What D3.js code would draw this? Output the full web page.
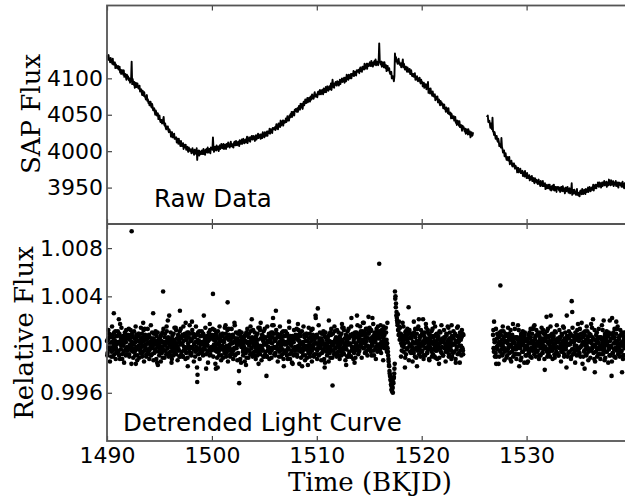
<!DOCTYPE html>
<html>
<head>
<meta charset="utf-8">
<script src="https://cdn.jsdelivr.net/npm/d3@7"></script>
<style>
  body { margin: 0; background: #fff; }
  svg { display: block; }
  .tick text { font-family: "DejaVu Sans", sans-serif; font-size: 22px; fill: #000; }
  .tick line { stroke: #444; stroke-width: 1.2; }
  .axis-label { font-family: "DejaVu Serif", serif; font-size: 26px; fill: #000; }
  .note { font-family: "DejaVu Sans", sans-serif; font-size: 24.5px; fill: #000; }
</style>
</head>
<body>
<svg id="chart"></svg>
<script>
// time in hundredths of a day after BKJD 1490
const timeHundredths = [
  0,5,10,15,20,25,30,35,40,45,50,55,60,65,70,75,80,85,90,95,
  100,105,110,115,120,125,130,135,140,145,150,155,160,165,170,175,180,185,190,195,
  200,205,210,215,220,225,230,235,240,245,250,255,260,265,270,275,280,285,290,295,
  300,305,310,315,320,325,330,335,340,345,350,355,360,365,370,375,380,385,390,395,
  400,405,410,415,420,425,430,435,440,445,450,455,460,465,470,475,480,485,490,495,
  500,505,510,515,520,525,530,535,540,545,550,555,560,565,570,575,580,585,590,595,
  600,605,610,615,620,625,630,635,640,645,650,655,660,665,670,675,680,685,690,695,
  700,705,710,715,720,725,730,735,740,745,750,755,760,765,770,775,780,785,790,795,
  800,805,810,815,820,825,830,835,840,845,850,855,860,865,870,875,880,885,890,895,
  900,905,910,915,920,925,930,935,940,945,950,955,960,965,970,975,980,985,990,995,
  1000,1005,1010,1015,1020,1025,1030,1035,1040,1045,1050,1055,1060,1065,1070,1075,1080,1085,1090,1095,
  1100,1105,1110,1115,1120,1125,1130,1135,1140,1145,1150,1155,1160,1165,1170,1175,1180,1185,1190,1195,
  1200,1205,1210,1215,1220,1225,1230,1235,1240,1245,1250,1255,1260,1265,1270,1275,1280,1285,1290,1295,
  1300,1305,1310,1315,1320,1325,1330,1335,1340,1345,1350,1355,1360,1365,1370,1375,1380,1385,1390,1395,
  1400,1405,1410,1415,1420,1425,1430,1435,1440,1445,1450,1455,1460,1465,1470,1475,1480,1485,1490,1495,
  1500,1505,1510,1515,1520,1525,1530,1535,1540,1545,1550,1555,1560,1565,1570,1575,1580,1585,1590,1595,
  1600,1605,1610,1615,1620,1625,1630,1635,1640,1645,1650,1655,1660,1665,1670,1675,1680,1685,1690,1695,
  1700,1705,1710,1715,1720,1725,1730,1735,1740,1745,1750,1755,1760,1765,1770,1775,1780,1785,1790,1795,
  1800,1805,1810,1815,1820,1825,1830,1835,1840,1845,1850,1855,1860,1865,1870,1875,1880,1885,1890,1895,
  1900,1905,1910,1915,1920,1925,1930,1935,1940,1945,1950,1955,1960,1965,1970,1975,1980,1985,1990,1995,
  2000,2005,2010,2015,2020,2025,2030,2035,2040,2045,2050,2055,2060,2065,2070,2075,2080,2085,2090,2095,
  2100,2105,2110,2115,2120,2125,2130,2135,2140,2145,2150,2155,2160,2165,2170,2175,2180,2185,2190,2195,
  2200,2205,2210,2215,2220,2225,2230,2235,2240,2245,2250,2255,2260,2265,2270,2275,2280,2285,2290,2295,
  2300,2305,2310,2315,2320,2325,2330,2335,2340,2345,2350,2355,2360,2365,2370,2375,2380,2385,2390,2395,
  2400,2405,2410,2415,2420,2425,2430,2435,2440,2445,2450,2455,2460,2465,2470,2475,2480,2485,2490,2495,
  2500,2505,2510,2515,2520,2525,2530,2535,2540,2545,2550,2555,2560,2565,2570,2575,2580,2585,2590,2595,
  2600,2605,2610,2615,2620,2625,2630,2635,2640,2645,2650,2655,2660,2665,2670,2675,2680,2685,2690,2695,
  2700,2705,2710,2715,2720,2725,2730,2735,2740,2745,2750,2755,2760,2765,2770,2775,2780,2785,2790,2795,
  2800,2805,2810,2815,2820,2825,2830,2835,2840,2845,2850,2855,2860,2865,2870,2875,2880,2885,2890,2895,
  2900,2905,2910,2915,2920,2925,2930,2935,2940,2945,2950,2955,2960,2965,2970,2975,2980,2985,2990,2995,
  3000,3005,3010,3015,3020,3025,3030,3035,3040,3045,3050,3055,3060,3065,3070,3075,3080,3085,3090,3095,
  3100,3105,3110,3115,3120,3125,3130,3135,3140,3145,3150,3155,3160,3165,3170,3175,3180,3185,3190,3195,
  3200,3205,3210,3215,3220,3225,3230,3235,3240,3245,3250,3255,3260,3265,3270,3275,3280,3285,3290,3295,
  3300,3305,3310,3315,3320,3325,3330,3335,3340,3345,3350,3355,3360,3365,3370,3375,3380,3385,3390,3395,
  3400,3405,3410,3415,3420,3425,3430,3435,3440,3445,3450,3455,3460,3465,3470,3475,3480,3485,3490,
  3620,3625,3630,3635,3640,3645,3650,3655,3660,3665,3670,3675,3680,3685,3690,3695,
  3700,3705,3710,3715,3720,3725,3730,3735,3740,3745,3750,3755,3760,3765,3770,3775,3780,3785,3790,3795,
  3800,3805,3810,3815,3820,3825,3830,3835,3840,3845,3850,3855,3860,3865,3870,3875,3880,3885,3890,3895,
  3900,3905,3910,3915,3920,3925,3930,3935,3940,3945,3950,3955,3960,3965,3970,3975,3980,3985,3990,3995,
  4000,4005,4010,4015,4020,4025,4030,4035,4040,4045,4050,4055,4060,4065,4070,4075,4080,4085,4090,4095,
  4100,4105,4110,4115,4120,4125,4130,4135,4140,4145,4150,4155,4160,4165,4170,4175,4180,4185,4190,4195,
  4200,4205,4210,4215,4220,4225,4230,4235,4240,4245,4250,4255,4260,4265,4270,4275,4280,4285,4290,4295,
  4300,4305,4310,4315,4320,4325,4330,4335,4340,4345,4350,4355,4360,4365,4370,4375,4380,4385,4390,4395,
  4400,4405,4410,4415,4420,4425,4430,4435,4440,4445,4450,4455,4460,4465,4470,4475,4480,4485,4490,4495,
  4500,4505,4510,4515,4520,4525,4530,4535,4540,4545,4550,4555,4560,4565,4570,4575,4580,4585,4590,4595,
  4600,4605,4610,4615,4620,4625,4630,4635,4640,4645,4650,4655,4660,4665,4670,4675,4680,4685,4690,4695,
  4700,4705,4710,4715,4720,4725,4730,4735,4740,4745,4750,4755,4760,4765,4770,4775,4780,4785,4790,4795,
  4800,4805,4810,4815,4820,4825,4830,4835,4840,4845,4850,4855,4860,4865,4870,4875,4880,4885,4890,4895,
  4900,4905,4910,4915,4920,4925,4930,4935,4940
]

// raw SAP flux, one row per day
const sapFlux = [
  4132,4126,4130,4132,4125,4126,4122,4128,4123,4125,4120,4127,4119,4121,4119,4122,4114,4119,4117,4114,
  4114,4117,4112,4113,4116,4108,4112,4106,4111,4107,4111,4105,4111,4102,4105,4106,4102,4098,4105,4102,
  4103,4099,4097,4100,4094,4098,4099,4123,4092,4099,4094,4091,4095,4087,4093,4094,4088,4090,4093,4088,
  4086,4088,4090,4082,4084,4085,4081,4077,4083,4080,4076,4081,4075,4075,4071,4075,4077,4069,4071,4066,
  4068,4063,4068,4068,4062,4060,4065,4061,4056,4058,4059,4054,4050,4056,4053,4049,4050,4052,4044,4048,
  4049,4043,4040,4043,4043,4038,4039,4043,4047,4037,4035,4038,4032,4030,4034,4031,4034,4028,4026,4030,
  4027,4027,4020,4024,4026,4019,4023,4019,4024,4017,4017,4017,4019,4012,4017,4015,4010,4017,4011,4011,
  4007,4014,4009,4007,4009,4011,4003,4009,4006,4005,4009,4002,4005,4006,4001,3999,4005,4002,4003,4000,
  4002,3997,4001,4004,3998,3999,3995,4002,3998,4001,3996,4004,3988,4000,3998,4001,3994,4000,3998,3996,
  3997,4001,3996,3999,4003,3996,4000,3995,4002,3999,4003,3998,4005,3998,4001,4003,4000,3997,4005,4003,
  4005,4002,4019,4005,3999,4004,4006,4002,4001,4008,4004,4002,4006,4000,4006,4008,4003,4005,4010,4005,
  4004,4007,4010,4003,4007,4009,4006,4003,4010,4008,4006,4012,4007,4008,4005,4010,4013,4007,4010,4006,
  4009,4005,4011,4013,4009,4008,4014,4011,4008,4011,4013,4010,4007,4015,4013,4010,4012,4016,4010,4015,
  4017,4012,4011,4015,4016,4012,4015,4020,4011,4016,4015,4019,4014,4013,4019,4017,4021,4016,4016,4021,
  4019,4020,4014,4019,4022,4016,4021,4018,4024,4018,4019,4020,4023,4017,4023,4022,4018,4026,4021,4022,
  4019,4026,4023,4021,4025,4027,4021,4027,4026,4025,4031,4024,4028,4030,4026,4025,4032,4030,4032,4030,
  4033,4029,4033,4037,4031,4034,4030,4038,4034,4038,4033,4042,4035,4039,4037,4042,4035,4042,4040,4039,
  4040,4045,4040,4043,4048,4042,4046,4042,4049,4046,4051,4047,4054,4047,4051,4054,4051,4049,4057,4055,
  4058,4056,4054,4059,4054,4059,4062,4059,4057,4065,4062,4060,4065,4058,4065,4068,4063,4066,4071,4066,
  4066,4070,4073,4067,4070,4073,4070,4068,4075,4074,4071,4078,4073,4075,4072,4078,4081,4075,4078,4075,
  4078,4074,4081,4082,4078,4078,4084,4081,4078,4081,4084,4081,4078,4086,4084,4081,4084,4088,4081,4087,
  4089,4084,4083,4087,4089,4085,4087,4093,4084,4090,4098,4092,4088,4087,4093,4091,4095,4091,4090,4096,
  4094,4095,4090,4094,4098,4092,4097,4095,4100,4095,4096,4097,4101,4094,4101,4100,4096,4105,4099,4101,
  4098,4105,4102,4100,4104,4106,4100,4106,4105,4104,4110,4103,4107,4109,4105,4104,4111,4109,4111,4109,
  4112,4107,4112,4115,4110,4112,4109,4116,4113,4116,4112,4120,4113,4117,4115,4120,4113,4120,4118,4117,
  4118,4122,4117,4119,4124,4117,4121,4116,4122,4119,4124,4119,4126,4118,4121,4123,4120,4118,4125,4148,
  4125,4122,4119,4123,4116,4121,4122,4118,4115,4122,4117,4114,4118,4110,4115,4117,4111,4112,4114,4108,
  4106,4107,4109,4100,4102,4103,4100,4096,4103,4134,4125,4129,4123,4124,4120,4125,4127,4120,4122,4118,
  4120,4115,4121,4121,4126,4115,4120,4117,4112,4114,4116,4112,4109,4115,4112,4109,4110,4113,4106,4110,
  4111,4105,4103,4106,4106,4102,4103,4107,4098,4102,4100,4103,4097,4096,4100,4097,4101,4095,4093,4098,
  4095,4095,4089,4092,4094,4087,4092,4088,4092,4085,4086,4086,4095,4080,4086,4084,4079,4086,4080,4080,
  4076,4082,4077,4075,4077,4078,4070,4075,4073,4071,4075,4067,4070,4071,4066,4063,4069,4065,4067,4063,
  4065,4059,4062,4064,4058,4059,4054,4060,4055,4057,4052,4059,4051,4053,4050,4053,4045,4051,4048,4045,
  4045,4048,4042,4044,4047,4039,4042,4036,4042,4038,4041,4035,4041,4033,4035,4036,4032,4028,4035,4032,
  4033,4030,4027,4031,4024,4029,4030,4026,4023,4030,4026,4023,4027,4019,4025,4026,4021,4022,4026,
  4047,4048,4049,4040,4042,4042,4037,4032,4038,4034,4030,4046,4027,4027,4022,4026,
  4022,4017,4021,4021,4015,4013,4017,4013,4007,4009,4010,4005,4018,4006,4003,3998,3999,4001,3993,3996,
  3997,3991,3988,3991,3992,3987,3988,3992,3982,3986,3984,3987,3981,3979,3983,3980,3983,3978,3976,3980,
  3977,3978,3971,3975,3977,3971,3975,3972,3976,3970,3970,3971,3973,3966,3971,3970,3965,3973,3966,3967,
  3963,3970,3965,3963,3965,3967,3960,3965,3963,3961,3966,3959,3962,3963,3958,3956,3963,3959,3961,3957,
  3960,3955,3958,3961,3955,3956,3952,3959,3954,3957,3952,3959,3952,3954,3952,3956,3948,3954,3952,3949,
  3950,3954,3949,3951,3954,3947,3951,3946,3952,3949,3953,3947,3954,3946,3949,3951,3948,3944,3951,3949,
  3951,3948,3946,3950,3944,3949,3951,3947,3945,3952,3947,3945,3949,3942,3948,3950,3945,3947,3951,3946,
  3943,3946,3949,3942,3944,3946,3956,3940,3947,3945,3942,3947,3942,3943,3940,3945,3948,3940,3943,3939,
  3942,3938,3945,3946,3942,3941,3948,3945,3941,3944,3947,3944,3941,3948,3947,3944,3946,3950,3944,3949,
  3951,3946,3945,3949,3950,3947,3949,3954,3946,3951,3950,3954,3949,3949,3954,3952,3957,3952,3951,3957,
  3955,3956,3950,3954,3957,3952,3957,3954,3959,3953,3954,3955,3958,3951,3957,3957,3953,3961,3955,3956,
  3953,3960,3956,3954,3957,3959,3952,3957,3955,3954,3959,3952,3956,3957,3952,3950,3957,3954,3956,3953,
  3956,3951,3955,3958,3951,3953,3949,3956,3952
]

// detrended flux as (relative flux - 1) x 10^4 on the same cadences, null where no detrended point
const relFluxE4 = [
  3,-7,5,-2,9,-4,0,6,-10,2,-5,8,-1,26,-8,1,11,-3,-6,7,
  -5,2,8,-9,1,17,6,-1,4,-12,7,0,-6,3,10,-4,2,-8,5,-2,
  6,-2,-8,4,0,12,-5,94,-3,7,-11,1,5,-6,2,-16,8,-4,-9,3,
  -1,9,-4,2,-7,5,1,-10,6,18,3,-5,13,-2,0,-8,4,7,-6,1,
  8,-5,2,-1,-9,4,10,-3,26,5,-7,2,-4,9,-12,3,-2,-17,1,-6,
  -4,1,7,-6,3,-2,-11,44,2,-5,6,-1,0,-8,11,4,20,2,-7,5,
  2,-9,4,-15,-3,0,-6,9,-1,3,-4,14,-8,1,5,-2,-5,7,-10,28,
  0,5,-6,1,8,-10,3,-2,7,-4,18,-7,4,10,-18,-1,6,-3,9,-8,
  3,-7,19,-2,9,-4,0,6,-10,2,-5,8,-31,4,-8,1,11,-3,-6,7,
  -5,2,8,-9,1,-3,6,-1,4,-20,7,0,-6,3,10,-4,17,-8,5,-2,
  6,-2,42,4,0,12,-5,3,-3,7,-11,-19,5,-6,2,-1,8,-4,-9,3,
  -1,9,-4,2,-7,5,16,-10,6,-3,35,-5,13,-2,0,-8,4,7,-6,1,
  8,-5,2,18,-9,4,10,-3,0,5,-7,2,-32,9,-12,3,-2,6,1,-6,
  -4,1,7,-6,3,-17,-11,8,2,-5,6,-1,0,-8,11,4,21,2,-7,5,
  2,-9,4,6,-3,0,-6,9,-1,-16,-4,14,-8,18,5,-2,-5,7,-10,0,
  0,5,-6,1,-26,-10,3,-2,7,-4,2,-7,4,10,-5,16,6,-3,9,-8,
  3,-7,28,-2,9,-4,0,6,-10,2,-5,8,-1,4,-8,1,11,-18,-6,7,
  -5,2,8,-9,1,-3,6,19,4,-12,7,0,-6,3,-16,-4,2,-8,5,-2,
  6,-2,-8,4,17,12,-5,3,-3,7,-11,1,-18,-6,2,-1,8,-4,-9,3,
  -1,9,-4,-17,-7,5,1,-10,6,-3,3,-5,13,-2,0,-8,4,7,22,1,
  8,-5,30,-1,-9,4,10,-3,0,5,-7,2,-4,9,-12,-19,-2,6,1,-6,
  -4,1,7,20,3,-2,-11,8,2,-5,-34,-1,0,-8,11,4,-3,2,-7,5,
  2,-9,4,6,-3,0,-6,9,17,3,-4,14,-8,1,5,-2,-17,7,-10,0,
  0,5,-6,1,8,-10,22,-2,7,-4,2,-7,-15,10,-5,-1,6,-3,9,-8,
  5,-5,7,0,11,-2,2,8,18,4,-3,10,1,6,-6,3,13,-1,-4,9,
  -2,5,11,-6,4,0,22,2,7,-9,10,3,-3,6,13,-1,5,-5,8,67,
  5,-4,9,2,12,-2,6,15,0,8,3,-3,10,4,1,-3,-9,-14,-18,-24,
  -26,-30,-34,-38,-35,-40,-32,-27,-20,44,40,34,27,20,16,12,8,15,4,9,
  9,1,-5,7,3,15,-2,6,-19,10,-8,4,8,-3,5,31,11,-1,-6,6,
  -1,9,-4,2,-7,19,1,-10,6,-3,3,-18,13,-2,0,-8,4,7,-6,1,
  8,-5,2,-1,-9,4,10,-3,17,5,-7,2,-4,9,-12,3,-2,6,1,-6,
  -4,1,7,18,3,-2,-11,8,2,-5,6,-1,0,-16,11,4,-3,2,-7,5,
  2,-9,4,6,-3,0,-6,9,-1,3,-4,14,-8,1,5,-2,-5,16,-10,0,
  0,5,-6,1,8,-15,3,-2,7,15,2,-7,4,10,-5,-1,6,-3,9,-8,
  null,null,null,null,null,null,null,null,null,null,null,null,null,null,null,null,null,null,null,
  null,null,null,null,null,null,null,null,null,null,null,null,8,-3,19,2,
  3,-7,-16,-2,9,-4,0,6,-10,2,49,8,-1,4,-8,1,11,-3,-6,7,
  -5,2,8,-9,1,-3,6,-1,4,-12,7,0,-6,3,17,-4,2,-8,5,-2,
  6,-2,-8,4,0,12,-18,3,-3,7,-11,1,5,-6,2,-1,8,-4,-9,3,
  -1,-15,-4,2,-7,5,1,-10,6,-3,3,-5,13,-2,0,16,4,7,-6,1,
  8,-5,2,-1,-9,4,10,-3,0,5,-7,2,-4,9,-12,3,-2,6,23,-6,
  -4,1,7,-6,3,-2,24,8,2,-5,6,-1,0,-8,11,4,-3,2,-7,5,
  2,-9,4,6,-3,0,-6,9,-1,3,-4,14,-8,1,5,-2,-19,7,-10,0,
  0,5,-6,1,8,-10,36,27,7,-4,2,-7,4,10,-5,-1,6,-3,17,-8,
  3,-7,5,-2,9,18,0,6,-10,2,-5,8,-1,4,-8,1,11,-3,-6,7,
  -5,2,8,17,1,-3,6,-1,4,-12,-23,0,-6,3,10,-4,2,-8,5,-2,
  6,-2,-8,4,0,12,-5,20,-3,7,-11,1,5,-6,2,-1,8,-4,-9,3,
  -1,9,-26,22,-7,5,1,-10,6,-3,3,19,13,-2,0,-8,4,7,-6,1,
  8,-5,-23,-1,-9,4,10,-3,0
]

// the in-between cadences of the detrended light curve (hundredths of a day after BKJD 1490)
const timeHundredthsB = [
  3,8,13,18,23,28,33,38,43,48,53,58,63,68,73,78,83,88,93,98,
  103,108,113,118,123,128,133,138,143,148,153,158,163,168,173,178,183,188,193,198,
  203,208,213,218,223,228,233,238,243,248,253,258,263,268,273,278,283,288,293,298,
  303,308,313,318,323,328,333,338,343,348,353,358,363,368,373,378,383,388,393,398,
  403,408,413,418,423,428,433,438,443,448,453,458,463,468,473,478,483,488,493,498,
  503,508,513,518,523,528,533,538,543,548,553,558,563,568,573,578,583,588,593,598,
  603,608,613,618,623,628,633,638,643,648,653,658,663,668,673,678,683,688,693,698,
  703,708,713,718,723,728,733,738,743,748,753,758,763,768,773,778,783,788,793,798,
  803,808,813,818,823,828,833,838,843,848,853,858,863,868,873,878,883,888,893,898,
  903,908,913,918,923,928,933,938,943,948,953,958,963,968,973,978,983,988,993,998,
  1003,1008,1013,1018,1023,1028,1033,1038,1043,1048,1053,1058,1063,1068,1073,1078,1083,1088,1093,1098,
  1103,1108,1113,1118,1123,1128,1133,1138,1143,1148,1153,1158,1163,1168,1173,1178,1183,1188,1193,1198,
  1203,1208,1213,1218,1223,1228,1233,1238,1243,1248,1253,1258,1263,1268,1273,1278,1283,1288,1293,1298,
  1303,1308,1313,1318,1323,1328,1333,1338,1343,1348,1353,1358,1363,1368,1373,1378,1383,1388,1393,1398,
  1403,1408,1413,1418,1423,1428,1433,1438,1443,1448,1453,1458,1463,1468,1473,1478,1483,1488,1493,1498,
  1503,1508,1513,1518,1523,1528,1533,1538,1543,1548,1553,1558,1563,1568,1573,1578,1583,1588,1593,1598,
  1603,1608,1613,1618,1623,1628,1633,1638,1643,1648,1653,1658,1663,1668,1673,1678,1683,1688,1693,1698,
  1703,1708,1713,1718,1723,1728,1733,1738,1743,1748,1753,1758,1763,1768,1773,1778,1783,1788,1793,1798,
  1803,1808,1813,1818,1823,1828,1833,1838,1843,1848,1853,1858,1863,1868,1873,1878,1883,1888,1893,1898,
  1903,1908,1913,1918,1923,1928,1933,1938,1943,1948,1953,1958,1963,1968,1973,1978,1983,1988,1993,1998,
  2003,2008,2013,2018,2023,2028,2033,2038,2043,2048,2053,2058,2063,2068,2073,2078,2083,2088,2093,2098,
  2103,2108,2113,2118,2123,2128,2133,2138,2143,2148,2153,2158,2163,2168,2173,2178,2183,2188,2193,2198,
  2203,2208,2213,2218,2223,2228,2233,2238,2243,2248,2253,2258,2263,2268,2273,2278,2283,2288,2293,2298,
  2303,2308,2313,2318,2323,2328,2333,2338,2343,2348,2353,2358,2363,2368,2373,2378,2383,2388,2393,2398,
  2403,2408,2413,2418,2423,2428,2433,2438,2443,2448,2453,2458,2463,2468,2473,2478,2483,2488,2493,2498,
  2503,2508,2513,2518,2523,2528,2533,2538,2543,2548,2553,2558,2563,2568,2573,2578,2583,2588,2593,2598,
  2603,2608,2613,2618,2623,2628,2633,2638,2643,2648,2653,2658,2663,2668,2673,2678,2683,2688,2693,2698,
  2703,2708,2713,2718,2723,2728,2733,2738,2743,2748,2753,2758,2763,2768,2773,2778,2783,2788,2793,2798,
  2803,2808,2813,2818,2823,2828,2833,2838,2843,2848,2853,2858,2863,2868,2873,2878,2883,2888,2893,2898,
  2903,2908,2913,2918,2923,2928,2933,2938,2943,2948,2953,2958,2963,2968,2973,2978,2983,2988,2993,2998,
  3003,3008,3013,3018,3023,3028,3033,3038,3043,3048,3053,3058,3063,3068,3073,3078,3083,3088,3093,3098,
  3103,3108,3113,3118,3123,3128,3133,3138,3143,3148,3153,3158,3163,3168,3173,3178,3183,3188,3193,3198,
  3203,3208,3213,3218,3223,3228,3233,3238,3243,3248,3253,3258,3263,3268,3273,3278,3283,3288,3293,3298,
  3303,3308,3313,3318,3323,3328,3333,3338,3343,3348,3353,3358,3363,3368,3373,3378,3383,3388,3393,3398,
  3683,3688,3693,3698,
  3703,3708,3713,3718,3723,3728,3733,3738,3743,3748,3753,3758,3763,3768,3773,3778,3783,3788,3793,3798,
  3803,3808,3813,3818,3823,3828,3833,3838,3843,3848,3853,3858,3863,3868,3873,3878,3883,3888,3893,3898,
  3903,3908,3913,3918,3923,3928,3933,3938,3943,3948,3953,3958,3963,3968,3973,3978,3983,3988,3993,3998,
  4003,4008,4013,4018,4023,4028,4033,4038,4043,4048,4053,4058,4063,4068,4073,4078,4083,4088,4093,4098,
  4103,4108,4113,4118,4123,4128,4133,4138,4143,4148,4153,4158,4163,4168,4173,4178,4183,4188,4193,4198,
  4203,4208,4213,4218,4223,4228,4233,4238,4243,4248,4253,4258,4263,4268,4273,4278,4283,4288,4293,4298,
  4303,4308,4313,4318,4323,4328,4333,4338,4343,4348,4353,4358,4363,4368,4373,4378,4383,4388,4393,4398,
  4403,4408,4413,4418,4423,4428,4433,4438,4443,4448,4453,4458,4463,4468,4473,4478,4483,4488,4493,4498,
  4503,4508,4513,4518,4523,4528,4533,4538,4543,4548,4553,4558,4563,4568,4573,4578,4583,4588,4593,4598,
  4603,4608,4613,4618,4623,4628,4633,4638,4643,4648,4653,4658,4663,4668,4673,4678,4683,4688,4693,4698,
  4703,4708,4713,4718,4723,4728,4733,4738,4743,4748,4753,4758,4763,4768,4773,4778,4783,4788,4793,4798,
  4803,4808,4813,4818,4823,4828,4833,4838,4843,4848,4853,4858,4863,4868,4873,4878,4883,4888,4893,4898,
  4903,4908,4913,4918,4923,4928,4933,4938
]

const relFluxE4B = [
  -9,4,12,-3,6,-14,1,8,-6,15,-2,-10,5,10,-4,3,-12,7,0,-7,
  11,-6,21,9,-12,3,-4,14,-8,2,6,-1,-15,7,4,-9,12,-3,-5,8,
  -3,13,-10,5,-1,8,-16,2,10,-6,0,11,-4,-9,15,-2,6,-13,3,9,
  7,-11,3,-5,14,-2,9,-7,-1,12,-14,4,8,-3,-10,6,1,13,-8,-4,
  -12,6,-3,16,2,-8,5,-1,-13,9,3,-6,11,0,7,-15,10,-2,4,-9,
  5,-2,-14,8,-7,10,-4,13,1,-11,9,-5,2,15,-8,-3,6,-10,24,-1,
  -6,10,2,-12,7,1,-9,4,14,-3,-7,12,-1,5,-13,8,-4,3,11,-10,
  13,-8,6,0,-10,15,-5,-2,9,-12,4,7,-3,-11,1,10,-6,16,-2,3,
  -9,4,12,-3,6,-14,1,8,-6,15,-2,-19,-25,10,-4,3,-12,7,0,-7,
  11,-6,0,9,24,3,-4,14,-8,2,6,-1,-15,7,4,-9,12,-3,-5,8,
  -3,13,-10,5,-1,8,-16,-20,10,-6,0,11,-4,-9,15,-2,6,-13,3,9,
  7,-11,3,-5,14,-2,9,-7,-1,12,-14,4,8,-3,-10,6,1,13,-8,-4,
  -12,6,-3,16,2,-8,5,-1,-13,9,3,-22,11,0,7,-15,10,-2,4,-9,
  5,-2,-14,8,-7,10,-4,13,1,-11,9,-5,2,15,-8,-3,6,-10,12,-1,
  -6,10,2,-12,7,1,-9,4,14,-3,-7,12,-1,5,-13,8,-4,3,11,-10,
  13,-8,6,0,-10,15,-5,-2,9,-12,4,7,-3,-11,1,10,22,16,-2,3,
  -9,4,12,-3,6,-14,1,8,-6,15,-2,-10,5,10,-4,3,-12,7,0,-7,
  11,-6,0,9,-12,3,-4,14,-8,2,6,-1,-15,7,4,-9,12,-3,-5,8,
  -3,13,-10,5,-1,8,-16,2,10,-6,0,11,-4,-9,15,-2,6,-13,3,9,
  7,-11,3,-5,14,-2,9,-7,-1,12,-14,4,8,-3,-10,6,1,24,-8,-4,
  -12,6,-3,16,2,-8,5,-1,-13,9,3,-6,11,0,7,-15,10,-2,4,-9,
  5,-2,-14,8,-7,10,-4,13,1,-11,9,-5,2,15,-8,-3,6,-10,12,-1,
  -6,10,2,-12,7,1,-9,4,14,-3,-7,12,-1,5,-13,8,-4,3,11,-10,
  13,-8,6,0,-10,15,-5,-2,9,-12,4,7,-3,-11,1,10,24,16,-2,3,
  -6,7,15,0,9,-11,4,11,-3,18,1,-7,8,13,-1,6,-9,10,23,-4,
  14,-3,3,12,-9,6,-1,17,-5,5,9,2,-12,10,7,-6,15,0,-2,11,
  0,16,-7,8,2,11,-13,5,13,-3,3,14,-1,-6,18,-6,-12,-17,-22,-26,
  -29,-33,-37,-39,-36,-31,-28,-24,-16,38,31,24,22,18,25,12,19,9,14,6,
  -10,8,-1,18,4,-6,7,1,-11,11,5,-4,13,2,9,-13,12,0,6,-7,
  5,-2,-14,8,-7,10,-4,13,1,-11,9,-5,2,15,21,-3,6,-10,12,-1,
  -6,10,21,-12,7,1,-9,4,14,-3,-7,12,-1,5,-13,8,-4,3,11,-10,
  13,-8,6,0,-10,15,-5,-2,9,-12,4,7,-3,-11,1,10,-6,16,-2,3,
  -9,4,12,-3,6,-14,1,8,-6,15,-2,-10,5,10,-4,3,-12,7,0,-7,
  11,-6,0,9,-12,3,-4,14,-8,2,6,-1,-15,7,4,-9,12,-3,-5,8,
  12,-6,4,-10,
  -3,13,-10,5,-1,8,-16,2,10,-6,0,11,-4,-9,15,-2,6,-13,3,9,
  7,-11,3,-5,14,-2,9,-7,-1,12,-14,4,8,-3,-10,6,1,13,-8,-4,
  -12,6,-3,16,2,-8,5,-1,-13,9,3,-6,11,0,7,-15,10,-2,4,-9,
  5,-2,-14,8,-7,10,-4,13,1,-11,9,-5,2,15,-8,-3,6,-10,12,-1,
  -6,10,2,-12,7,1,-9,4,14,-3,-7,12,-1,5,-21,8,-4,3,11,-10,
  13,-8,6,0,-10,15,-5,-2,9,-12,4,7,-3,-11,1,10,-6,16,-2,3,
  -9,4,12,-3,6,-14,1,8,-6,15,-2,-10,5,10,-4,3,24,7,0,-7,
  11,-6,0,9,-12,3,-4,14,-8,2,6,-1,-15,7,4,-9,12,-3,-5,8,
  -3,13,-10,5,-1,8,-16,2,10,-6,-20,11,-4,-9,15,-2,6,-13,3,9,
  7,-11,3,-5,14,-2,21,-7,-1,12,-14,4,8,-3,-10,6,1,13,-8,-4,
  -12,6,-3,16,2,-8,5,-1,-13,9,3,-6,11,0,7,-15,10,-2,20,-9,
  5,-2,-14,8,-7,10,-4,13,1,-11,9,-5,2,15,-8,-3,6,-10,12,-1,
  -6,10,2,-12,7,1,-9,4
]

const timeTicks = [1490, 1500, 1510, 1520, 1530]
const sapTicks = [3950, 4000, 4050, 4100]
const relTicks = [0.996, 1.000, 1.004, 1.008]

const width = 625, height = 500
const margin = { left: 107, top: 5.5, mid: 224, bottom: 441 }

const points = timeHundredths.map((t, i) => ({
    time: 1490 + t / 100,
    sap: sapFlux[i],
    rel: relFluxE4[i] == null ? null : 1 + relFluxE4[i] / 1e4
}))

const lcPoints = points.filter(d => d.rel != null)
    .concat(timeHundredthsB.map((t, i) => ({ time: 1490 + t / 100, rel: 1 + relFluxE4B[i] / 1e4 })))

const svg = d3.select('#chart')
    .attr('width', width)
    .attr('height', height)

// x scale runs a little past the right edge, the figure is cropped there
const xScale = d3.scaleLinear()
    .domain([1490, 1540])
    .range([margin.left, margin.left + 50 * 10.49])

const ySap = d3.scaleLinear()
    .domain([3900, 4200])
    .range([margin.mid, margin.top])

const yRel = d3.scaleLinear()
    .domain([0.992, 1.010])
    .range([margin.bottom, margin.mid])

const tickLen = 5

function timeAxis(g, y, orient, labels) {
    let axis = (orient === 'top' ? d3.axisTop(xScale) : d3.axisBottom(xScale))
        .tickValues(timeTicks)
        .tickSize(-tickLen)
        .tickPadding(6)
        .tickFormat(labels ? d3.format('d') : () => '')
    g.append('g')
        .attr('transform', `translate(0, ${y})`)
        .call(axis)
        .call(a => a.select('.domain').remove())
}

function valueAxis(g, scale, values, fmt) {
    g.append('g')
        .attr('transform', `translate(${margin.left}, 0)`)
        .call(d3.axisLeft(scale).tickValues(values).tickSize(-tickLen).tickPadding(4).tickFormat(fmt))
        .call(a => a.select('.domain').remove())
}

// top panel: raw data
const rawPanel = svg.append('g')

const gap = 0.5
const segments = []
points.forEach((d, i) => {
    if (i === 0 || d.time - points[i - 1].time > gap) segments.push([])
    segments[segments.length - 1].push(d)
})

const line = d3.line()
    .x(d => xScale(d.time))
    .y(d => ySap(d.sap))

rawPanel.selectAll('.raw')
    .data(segments)
    .join('path')
    .attr('class', 'raw')
    .attr('fill', 'none')
    .attr('stroke', '#000')
    .attr('stroke-width', 1.9)
    .attr('stroke-linejoin', 'round')
    .attr('d', line)

valueAxis(rawPanel, ySap, sapTicks, d3.format('d'))
timeAxis(rawPanel, margin.top, 'top', false)
timeAxis(rawPanel, margin.mid, 'bottom', false)

// bottom panel: detrended light curve
const lcPanel = svg.append('g')

lcPanel.selectAll('circle')
    .data(lcPoints)
    .join('circle')
    .attr('cx', d => xScale(d.time))
    .attr('cy', d => yRel(d.rel))
    .attr('r', 2.3)
    .attr('fill', '#000')

valueAxis(lcPanel, yRel, relTicks, d3.format('.3f'))
timeAxis(lcPanel, margin.mid, 'top', false)
timeAxis(lcPanel, margin.bottom, 'bottom', true)

// frames
const frameColor = '#555'
svg.append('rect')
    .attr('x', margin.left).attr('y', margin.top)
    .attr('width', xScale.range()[1] - margin.left)
    .attr('height', margin.bottom - margin.top)
    .attr('fill', 'none')
    .attr('stroke', frameColor)
    .attr('stroke-width', 1.8)
svg.append('line')
    .attr('x1', margin.left).attr('x2', xScale.range()[1])
    .attr('y1', margin.mid).attr('y2', margin.mid)
    .attr('stroke', frameColor)
    .attr('stroke-width', 1.8)

// texts
svg.append('text')
    .attr('class', 'note')
    .attr('x', 154).attr('y', 207)
    .text('Raw Data')
svg.append('text')
    .attr('class', 'note')
    .attr('x', 123).attr('y', 431)
    .text('Detrended Light Curve')

svg.append('text')
    .attr('class', 'axis-label')
    .attr('text-anchor', 'middle')
    .attr('transform', 'translate(40, 114) rotate(-90)')
    .text('SAP Flux')
svg.append('text')
    .attr('class', 'axis-label')
    .attr('text-anchor', 'middle')
    .attr('transform', 'translate(33, 333) rotate(-90)')
    .text('Relative Flux')
svg.append('text')
    .attr('class', 'axis-label')
    .attr('text-anchor', 'middle')
    .attr('x', 370).attr('y', 491)
    .text('Time (BKJD)')
</script>
</body>
</html>
